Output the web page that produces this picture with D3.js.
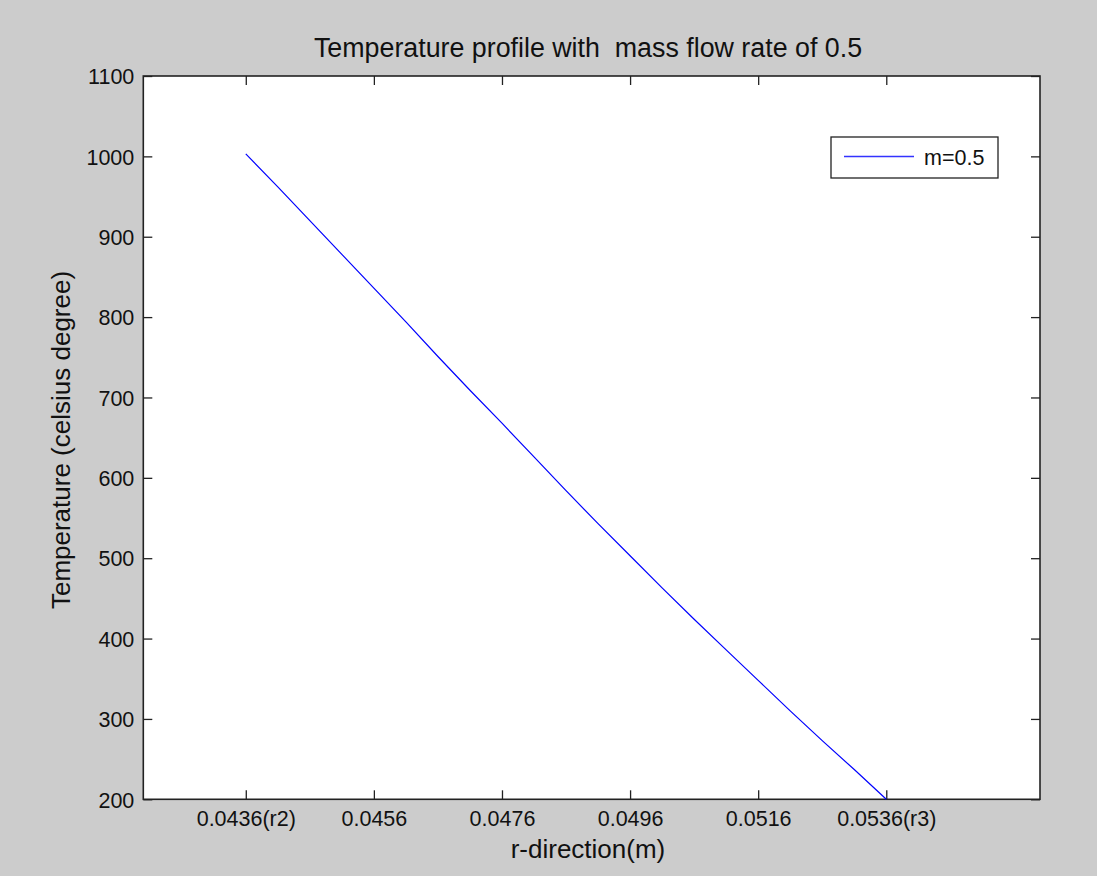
<!DOCTYPE html>
<html>
<head>
<meta charset="utf-8">
<script src="https://cdn.jsdelivr.net/npm/d3@7"></script>
<style>
  html, body { margin: 0; padding: 0; background: #cccccc; }
  svg { display: block; font-family: "Liberation Sans", Arial, sans-serif; }
</style>
</head>
<body>
<div id="chart-area"></div>
<script>
// r positions (m) and temperature
const radius = [
  0.0436, 0.0441, 0.0446, 0.0451, 0.0456, 0.0461, 0.0466, 0.0471, 0.0476, 0.0481,
  0.0486, 0.0491, 0.0496, 0.0501, 0.0506, 0.0511, 0.0516, 0.0521, 0.0526, 0.0531, 0.0536
];
const temperature = [
  1003, 962, 920, 878, 836, 794, 751, 709, 668, 626,
  584, 543, 503, 463, 424, 386, 348, 310, 273, 237, 200
];
const xTicks = [0.0436, 0.0456, 0.0476, 0.0496, 0.0516, 0.0536];
const xTickLabels = ["0.0436(r2)", "0.0456", "0.0476", "0.0496", "0.0516", "0.0536(r3)"];
const yTicks = [200, 300, 400, 500, 600, 700, 800, 900, 1000, 1100];
const seriesName = "m=0.5";

const drawChart = () => {
  const chartSize = { width: 1097, height: 876 };
  const box = { left: 143.3, right: 1040, top: 76, bottom: 799.3 };
  const tickLen = 9;

  const x = d3.scaleLinear().domain([0.042, 0.056]).range([box.left, box.right]);
  const y = d3.scaleLinear().domain([200, 1100]).range([box.bottom, box.top]);

  const svg = d3
    .select("#chart-area")
    .append("svg")
    .attr("width", chartSize.width)
    .attr("height", chartSize.height);

  svg.append("rect")
    .attr("width", chartSize.width)
    .attr("height", chartSize.height)
    .attr("fill", "#cccccc");

  svg.append("rect")
    .attr("x", box.left)
    .attr("y", box.top)
    .attr("width", box.right - box.left)
    .attr("height", box.bottom - box.top)
    .attr("fill", "#ffffff");

  const labelMap = new Map(xTicks.map((t, i) => [t, xTickLabels[i]]));

  // matlab style: ticks point inward on all four sides
  const xBottom = d3.axisBottom(x).tickValues(xTicks).tickSize(-tickLen).tickPadding(11)
    .tickFormat(d => labelMap.get(d));
  const xTop = d3.axisTop(x).tickValues(xTicks).tickSize(-tickLen).tickFormat("");
  const yLeft = d3.axisLeft(y).tickValues(yTicks).tickSize(-tickLen).tickPadding(9)
    .tickFormat(d3.format("d"));
  const yRight = d3.axisRight(y).tickValues(yTicks).tickSize(-tickLen).tickFormat("");

  const styleAxis = g => {
    g.select(".domain").remove();
    g.selectAll(".tick line").attr("stroke", "#222").attr("stroke-width", 1.3);
    g.selectAll(".tick text")
      .attr("fill", "#111")
      .style("font-size", "21.5px")
      .style("font-family", "'Liberation Sans', Arial, sans-serif");
  };

  svg.append("g").attr("class", "x-axis")
    .attr("transform", `translate(0,${box.bottom})`)
    .call(xBottom).call(styleAxis);
  svg.append("g")
    .attr("transform", `translate(0,${box.top})`)
    .call(xTop).call(styleAxis);
  svg.append("g").attr("class", "y-axis")
    .attr("transform", `translate(${box.left},0)`)
    .call(yLeft).call(styleAxis);
  svg.append("g")
    .attr("transform", `translate(${box.right},0)`)
    .call(yRight).call(styleAxis);

  svg.selectAll(".y-axis .tick text").attr("dy", "0.36em");

  svg.append("rect")
    .attr("x", box.left)
    .attr("y", box.top)
    .attr("width", box.right - box.left)
    .attr("height", box.bottom - box.top)
    .attr("fill", "none")
    .attr("stroke", "#222")
    .attr("stroke-width", 1.6);

  const points = radius.map((r, i) => [r, temperature[i]]);
  const line = d3.line().x(d => x(d[0])).y(d => y(d[1]));

  svg.append("path")
    .datum(points)
    .attr("fill", "none")
    .attr("stroke", "#0000ff")
    .attr("stroke-width", 1.2)
    .attr("d", line);

  // legend
  const legend = svg.append("g").attr("transform", "translate(831,137)");
  legend.append("rect")
    .attr("width", 167)
    .attr("height", 41)
    .attr("fill", "#ffffff")
    .attr("stroke", "#222")
    .attr("stroke-width", 1.3);
  legend.append("line")
    .attr("x1", 13).attr("x2", 83)
    .attr("y1", 19.5).attr("y2", 19.5)
    .attr("stroke", "#3333ff")
    .attr("stroke-width", 1.3);
  legend.append("text")
    .attr("x", 93)
    .attr("y", 28)
    .attr("fill", "#111")
    .style("font-size", "21.5px")
    .text(seriesName);

  svg.append("text")
    .attr("x", 588)
    .attr("y", 57)
    .attr("text-anchor", "middle")
    .attr("fill", "#111")
    .style("font-size", "26.8px")
    .style("white-space", "pre")
    .attr("xml:space", "preserve")
    .text("Temperature profile with  mass flow rate of 0.5");

  svg.append("text")
    .attr("x", 588)
    .attr("y", 858)
    .attr("text-anchor", "middle")
    .attr("fill", "#111")
    .style("font-size", "26px")
    .text("r-direction(m)");

  svg.append("text")
    .attr("transform", "rotate(-90)")
    .attr("x", -440)
    .attr("y", 70)
    .attr("text-anchor", "middle")
    .attr("fill", "#111")
    .style("font-size", "26px")
    .text("Temperature (celsius degree)");
};

window.onload = drawChart;
</script>
</body>
</html>
